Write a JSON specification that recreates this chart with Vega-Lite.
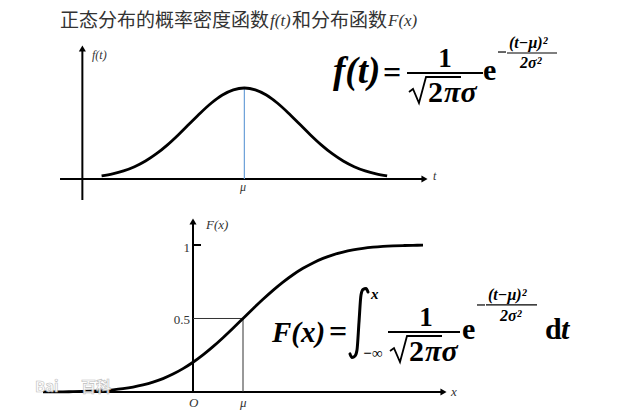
{
  "$schema": "https://vega.github.io/schema/vega-lite/v6.json",
  "padding": 0,
  "spacing": 0,
  "background": "white",
  "config": {"view": {"stroke": null}},
  "vconcat": [
    {
      "width": 626,
      "height": 207,
      "encoding": {
        "x": {"field": "x", "type": "quantitative", "scale": {"domain": [-4.45, 6.95], "nice": false, "zero": false}, "axis": null},
        "y": {"field": "y", "type": "quantitative", "scale": {"domain": [-0.1227, 0.7847], "nice": false, "zero": false}, "axis": null}
      },
      "layer": [
        {
          "data": {"values": [
            {"x": -2.95, "x2": -2.95, "y": -0.092, "y2": 0.572},
            {"x": -3.357, "x2": 3.281, "y": 0, "y2": 0}
          ]},
          "mark": {"type": "rule", "color": "black", "strokeWidth": 2},
          "encoding": {"x2": {"field": "x2"}, "y2": {"field": "y2"}}
        },
        {
          "data": {"values": [{"x": 0, "x2": 0, "y": 0, "y2": 0.3989}]},
          "mark": {"type": "rule", "color": "#6a9fd8", "strokeWidth": 1.2},
          "encoding": {"x2": {"field": "x2"}, "y2": {"field": "y2"}}
        },
        {
          "data": {"values": [
            {"x": -2.6, "y": 0.0136}, {"x": -2.4, "y": 0.0224}, {"x": -2.2, "y": 0.0355},
            {"x": -2.0, "y": 0.0540}, {"x": -1.8, "y": 0.0790}, {"x": -1.6, "y": 0.1109},
            {"x": -1.4, "y": 0.1497}, {"x": -1.2, "y": 0.1942}, {"x": -1.0, "y": 0.2420},
            {"x": -0.8, "y": 0.2897}, {"x": -0.6, "y": 0.3332}, {"x": -0.4, "y": 0.3683},
            {"x": -0.2, "y": 0.3910}, {"x": 0.0, "y": 0.3989}, {"x": 0.2, "y": 0.3910},
            {"x": 0.4, "y": 0.3683}, {"x": 0.6, "y": 0.3332}, {"x": 0.8, "y": 0.2897},
            {"x": 1.0, "y": 0.2420}, {"x": 1.2, "y": 0.1942}, {"x": 1.4, "y": 0.1497},
            {"x": 1.6, "y": 0.1109}, {"x": 1.8, "y": 0.0790}, {"x": 2.0, "y": 0.0540},
            {"x": 2.2, "y": 0.0355}, {"x": 2.4, "y": 0.0224}, {"x": 2.6, "y": 0.0136}
          ]},
          "mark": {"type": "line", "color": "black", "strokeWidth": 2.8, "interpolate": "monotone"}
        },
        {
          "data": {"values": [
            {"x": -2.95, "y": 0.572, "dir": "up"},
            {"x": 3.281, "y": 0, "dir": "right"}
          ]},
          "mark": {"type": "point", "filled": true, "size": 50, "color": "black", "opacity": 1},
          "encoding": {"shape": {"field": "dir", "type": "nominal", "scale": {"domain": ["up", "right"], "range": ["triangle-up", "triangle-right"]}, "legend": null}}
        },
        {
          "data": {"values": [
            {"x": -3.357, "y": 0.6948, "label": "正态分布的概率密度函数"},
            {"x": 0.868, "y": 0.6948, "label": "和分布函数"}
          ]},
          "mark": {"type": "text", "align": "left", "baseline": "middle", "font": "Noto Sans CJK SC", "fontSize": 19, "color": "#333"},
          "encoding": {"text": {"field": "label"}}
        },
        {
          "data": {"values": [
            {"x": 0.467, "y": 0.6707, "label": "f(t)"},
            {"x": 2.616, "y": 0.6707, "label": "F(x)"}
          ]},
          "mark": {"type": "text", "align": "left", "baseline": "alphabetic", "font": "Times New Roman, Liberation Serif, serif", "fontStyle": "italic", "fontSize": 17, "color": "#333"},
          "encoding": {"text": {"field": "label"}}
        },
        {
          "data": {"values": [
            {"x": -2.775, "y": 0.5436, "label": "f(t)"},
            {"x": 3.435, "y": 0.0131, "label": "t"},
            {"x": -0.08, "y": -0.035, "label": "μ"}
          ]},
          "mark": {"type": "text", "align": "left", "baseline": "middle", "font": "Times New Roman, Liberation Serif, serif", "fontStyle": "italic", "fontSize": 12, "color": "#333"},
          "encoding": {"text": {"field": "label"}}
        },
        {
          "data": {"values": [{"x": 1.614, "y": 0.4208, "label": "f(t)"}]},
          "mark": {"type": "text", "align": "left", "baseline": "alphabetic", "font": "Times New Roman, Liberation Serif, serif", "fontStyle": "italic", "fontWeight": "bold", "fontSize": 37, "color": "black"},
          "encoding": {"text": {"field": "label"}}
        },
        {
          "data": {"values": [{"x": 2.689, "y": 0.4208, "label": "="}]},
          "mark": {"type": "text", "align": "center", "baseline": "alphabetic", "font": "Times New Roman, Liberation Serif, serif", "fontWeight": "bold", "fontSize": 32, "color": "black"},
          "encoding": {"text": {"field": "label"}}
        },
        {
          "data": {"values": [{"x": 3.654, "y": 0.491, "label": "1"}]},
          "mark": {"type": "text", "align": "center", "baseline": "alphabetic", "font": "Times New Roman, Liberation Serif, serif", "fontWeight": "bold", "fontSize": 27, "color": "black"},
          "encoding": {"text": {"field": "label"}}
        },
        {
          "data": {"values": [
            {"x": 3.344, "y": 0.3375, "label": "2"},
            {"x": 4.346, "y": 0.434, "label": "e"}
          ]},
          "mark": {"type": "text", "align": "left", "baseline": "alphabetic", "font": "Times New Roman, Liberation Serif, serif", "fontWeight": "bold", "fontSize": 30, "color": "black"},
          "encoding": {"text": {"field": "label"}}
        },
        {
          "data": {"values": [{"x": 3.636, "y": 0.3375, "label": "πσ"}]},
          "mark": {"type": "text", "align": "left", "baseline": "alphabetic", "font": "Times New Roman, Liberation Serif, serif", "fontStyle": "italic", "fontWeight": "bold", "fontSize": 30, "color": "black"},
          "encoding": {"text": {"field": "label"}}
        },
        {
          "data": {"values": [
            {"x": 4.819, "y": 0.5743, "label": "(t−μ)²"},
            {"x": 5.02, "y": 0.4866, "label": "2σ²"}
          ]},
          "mark": {"type": "text", "align": "left", "baseline": "alphabetic", "font": "Times New Roman, Liberation Serif, serif", "fontStyle": "italic", "fontWeight": "bold", "fontSize": 16, "color": "black"},
          "encoding": {"text": {"field": "label"}}
        },
        {
          "data": {"values": [{"x": 2.962, "x2": 4.346, "y": 0.4647, "y2": 0.4647}]},
          "mark": {"type": "rule", "color": "black", "strokeWidth": 2},
          "encoding": {"x2": {"field": "x2"}, "y2": {"field": "y2"}}
        },
        {
          "data": {"values": [
            {"x": 4.783, "x2": 5.694, "y": 0.5523, "y2": 0.5523},
            {"x": 4.619, "x2": 4.765, "y": 0.5567, "y2": 0.5567}
          ]},
          "mark": {"type": "rule", "color": "black", "strokeWidth": 1.2},
          "encoding": {"x2": {"field": "x2"}, "y2": {"field": "y2"}}
        },
        {
          "data": {"values": [
            {"i": 0, "x": 2.998, "y": 0.3814},
            {"i": 1, "x": 3.071, "y": 0.3945},
            {"i": 2, "x": 3.18, "y": 0.3331},
            {"i": 3, "x": 3.308, "y": 0.4471},
            {"i": 4, "x": 3.945, "y": 0.4471}
          ]},
          "mark": {"type": "line", "color": "black", "strokeWidth": 1.8, "interpolate": "linear"},
          "encoding": {"order": {"field": "i", "type": "quantitative"}}
        }
      ]
    },
    {
      "width": 626,
      "height": 207,
      "encoding": {
        "x": {"field": "x", "type": "quantitative", "scale": {"domain": [-3.86, 8.66], "nice": false, "zero": false}, "axis": null},
        "y": {"field": "y", "type": "quantitative", "scale": {"domain": [-0.1497, 1.2585], "nice": false, "zero": false}, "axis": null}
      },
      "layer": [
        {
          "data": {"values": [
            {"x": 0, "x2": 0, "y": 0, "y2": 1.16},
            {"x": -3.0, "x2": 5.01, "y": 0, "y2": 0},
            {"x": 0, "x2": 0.16, "y": 1, "y2": 1}
          ]},
          "mark": {"type": "rule", "color": "black", "strokeWidth": 2},
          "encoding": {"x2": {"field": "x2"}, "y2": {"field": "y2"}}
        },
        {
          "data": {"values": [
            {"x": 0, "x2": 1, "y": 0.5, "y2": 0.5},
            {"x": 1, "x2": 1, "y": 0, "y2": 0.5}
          ]},
          "mark": {"type": "rule", "color": "#333", "strokeWidth": 1},
          "encoding": {"x2": {"field": "x2"}, "y2": {"field": "y2"}}
        },
        {
          "data": {"values": [
            {"x": -3.0, "y": 0.0004}, {"x": -2.8, "y": 0.0008}, {"x": -2.6, "y": 0.0013},
            {"x": -2.4, "y": 0.0023}, {"x": -2.2, "y": 0.0038}, {"x": -2.0, "y": 0.0062},
            {"x": -1.8, "y": 0.0098}, {"x": -1.6, "y": 0.0151}, {"x": -1.4, "y": 0.0228},
            {"x": -1.2, "y": 0.0334}, {"x": -1.0, "y": 0.0478}, {"x": -0.8, "y": 0.0668},
            {"x": -0.6, "y": 0.0912}, {"x": -0.4, "y": 0.1217}, {"x": -0.2, "y": 0.1587},
            {"x": 0.0, "y": 0.2023}, {"x": 0.2, "y": 0.2525}, {"x": 0.4, "y": 0.3085},
            {"x": 0.6, "y": 0.3694}, {"x": 0.8, "y": 0.4338}, {"x": 1.0, "y": 0.5},
            {"x": 1.2, "y": 0.5662}, {"x": 1.4, "y": 0.6306}, {"x": 1.6, "y": 0.6915},
            {"x": 1.8, "y": 0.7475}, {"x": 2.0, "y": 0.7977}, {"x": 2.2, "y": 0.8413},
            {"x": 2.4, "y": 0.8783}, {"x": 2.6, "y": 0.9088}, {"x": 2.8, "y": 0.9332},
            {"x": 3.0, "y": 0.9522}, {"x": 3.2, "y": 0.9666}, {"x": 3.4, "y": 0.9772},
            {"x": 3.6, "y": 0.9849}, {"x": 3.8, "y": 0.9902}, {"x": 4.0, "y": 0.9938},
            {"x": 4.2, "y": 0.9962}, {"x": 4.4, "y": 0.9977}, {"x": 4.6, "y": 0.9987}
          ]},
          "mark": {"type": "line", "color": "black", "strokeWidth": 2.8, "interpolate": "monotone"}
        },
        {
          "data": {"values": [
            {"x": 0, "y": 1.16, "dir": "up"},
            {"x": 5.01, "y": 0, "dir": "right"}
          ]},
          "mark": {"type": "point", "filled": true, "size": 50, "color": "black", "opacity": 1},
          "encoding": {"shape": {"field": "dir", "type": "nominal", "scale": {"domain": ["up", "right"], "range": ["triangle-up", "triangle-right"]}, "legend": null}}
        },
        {
          "data": {"values": [
            {"x": -0.06, "y": 0.98, "label": "1"},
            {"x": -0.06, "y": 0.49, "label": "0.5"}
          ]},
          "mark": {"type": "text", "align": "right", "baseline": "middle", "font": "Times New Roman, Liberation Serif, serif", "fontSize": 13, "color": "#333"},
          "encoding": {"text": {"field": "label"}}
        },
        {
          "data": {"values": [
            {"x": 0.26, "y": 1.136, "label": "F(x)"},
            {"x": -0.08, "y": -0.075, "label": "O"},
            {"x": 0.94, "y": -0.075, "label": "μ"},
            {"x": 5.16, "y": 0.0, "label": "x"}
          ]},
          "mark": {"type": "text", "align": "left", "baseline": "middle", "font": "Times New Roman, Liberation Serif, serif", "fontStyle": "italic", "fontSize": 13, "color": "#333"},
          "encoding": {"text": {"field": "label"}}
        },
        {
          "data": {"values": [{"x": 1.58, "y": 0.34, "label": "F(x)"}]},
          "mark": {"type": "text", "align": "left", "baseline": "alphabetic", "font": "Times New Roman, Liberation Serif, serif", "fontStyle": "italic", "fontWeight": "bold", "fontSize": 29, "color": "black"},
          "encoding": {"text": {"field": "label"}}
        },
        {
          "data": {"values": [{"x": 2.9, "y": 0.34, "label": "="}]},
          "mark": {"type": "text", "align": "center", "baseline": "alphabetic", "font": "Times New Roman, Liberation Serif, serif", "fontWeight": "bold", "fontSize": 32, "color": "black"},
          "encoding": {"text": {"field": "label"}}
        },
        {
          "data": {"values": [
            {"i": 0, "x": 3.5, "y": 0.68},
            {"i": 1, "x": 3.46, "y": 0.704},
            {"i": 2, "x": 3.4, "y": 0.697},
            {"i": 3, "x": 3.36, "y": 0.66},
            {"i": 4, "x": 3.32, "y": 0.476},
            {"i": 5, "x": 3.28, "y": 0.286},
            {"i": 6, "x": 3.24, "y": 0.245},
            {"i": 7, "x": 3.18, "y": 0.235},
            {"i": 8, "x": 3.14, "y": 0.259}
          ]},
          "mark": {"type": "line", "color": "black", "strokeWidth": 3, "interpolate": "monotone", "strokeCap": "round"},
          "encoding": {"order": {"field": "i", "type": "quantitative"}}
        },
        {
          "data": {"values": [
            {"x": 3.56, "y": 0.633, "label": "x"},
            {"x": 3.4, "y": 0.231, "label": "−∞"}
          ]},
          "mark": {"type": "text", "align": "left", "baseline": "alphabetic", "font": "Times New Roman, Liberation Serif, serif", "fontStyle": "italic", "fontWeight": "bold", "fontSize": 15, "color": "black"},
          "encoding": {"text": {"field": "label"}}
        },
        {
          "data": {"values": [{"x": 4.66, "y": 0.449, "label": "1"}]},
          "mark": {"type": "text", "align": "center", "baseline": "alphabetic", "font": "Times New Roman, Liberation Serif, serif", "fontWeight": "bold", "fontSize": 27, "color": "black"},
          "encoding": {"text": {"field": "label"}}
        },
        {
          "data": {"values": [
            {"x": 4.32, "y": 0.211, "label": "2"},
            {"x": 5.38, "y": 0.361, "label": "e"},
            {"x": 7.04, "y": 0.361, "label": "d"}
          ]},
          "mark": {"type": "text", "align": "left", "baseline": "alphabetic", "font": "Times New Roman, Liberation Serif, serif", "fontWeight": "bold", "fontSize": 30, "color": "black"},
          "encoding": {"text": {"field": "label"}}
        },
        {
          "data": {"values": [
            {"x": 4.64, "y": 0.211, "label": "πσ"},
            {"x": 7.36, "y": 0.361, "label": "t"}
          ]},
          "mark": {"type": "text", "align": "left", "baseline": "alphabetic", "font": "Times New Roman, Liberation Serif, serif", "fontStyle": "italic", "fontWeight": "bold", "fontSize": 30, "color": "black"},
          "encoding": {"text": {"field": "label"}}
        },
        {
          "data": {"values": [
            {"x": 5.9, "y": 0.626, "label": "(t−μ)²"},
            {"x": 6.14, "y": 0.483, "label": "2σ²"}
          ]},
          "mark": {"type": "text", "align": "left", "baseline": "alphabetic", "font": "Times New Roman, Liberation Serif, serif", "fontStyle": "italic", "fontWeight": "bold", "fontSize": 16, "color": "black"},
          "encoding": {"text": {"field": "label"}}
        },
        {
          "data": {"values": [{"x": 3.9, "x2": 5.34, "y": 0.408, "y2": 0.408}]},
          "mark": {"type": "rule", "color": "black", "strokeWidth": 2},
          "encoding": {"x2": {"field": "x2"}, "y2": {"field": "y2"}}
        },
        {
          "data": {"values": [
            {"x": 5.86, "x2": 6.88, "y": 0.592, "y2": 0.592},
            {"x": 5.68, "x2": 5.84, "y": 0.592, "y2": 0.592}
          ]},
          "mark": {"type": "rule", "color": "black", "strokeWidth": 1.2},
          "encoding": {"x2": {"field": "x2"}, "y2": {"field": "y2"}}
        },
        {
          "data": {"values": [
            {"i": 0, "x": 3.94, "y": 0.279},
            {"i": 1, "x": 4.02, "y": 0.299},
            {"i": 2, "x": 4.14, "y": 0.204},
            {"i": 3, "x": 4.28, "y": 0.381},
            {"i": 4, "x": 4.98, "y": 0.381}
          ]},
          "mark": {"type": "line", "color": "black", "strokeWidth": 1.8, "interpolate": "linear"},
          "encoding": {"order": {"field": "i", "type": "quantitative"}}
        },
        {
          "data": {"values": [
            {"x": -3.16, "y": 0.034, "label": "Bai"},
            {"x": -2.24, "y": 0.034, "label": "百科"}
          ]},
          "mark": {"type": "text", "align": "left", "baseline": "middle", "font": "Noto Sans CJK SC", "fontWeight": "bold", "fontSize": 15, "color": "white", "stroke": "#b5b5b5", "strokeWidth": 0.6, "opacity": 0.9},
          "encoding": {"text": {"field": "label"}}
        }
      ]
    }
  ]
}
